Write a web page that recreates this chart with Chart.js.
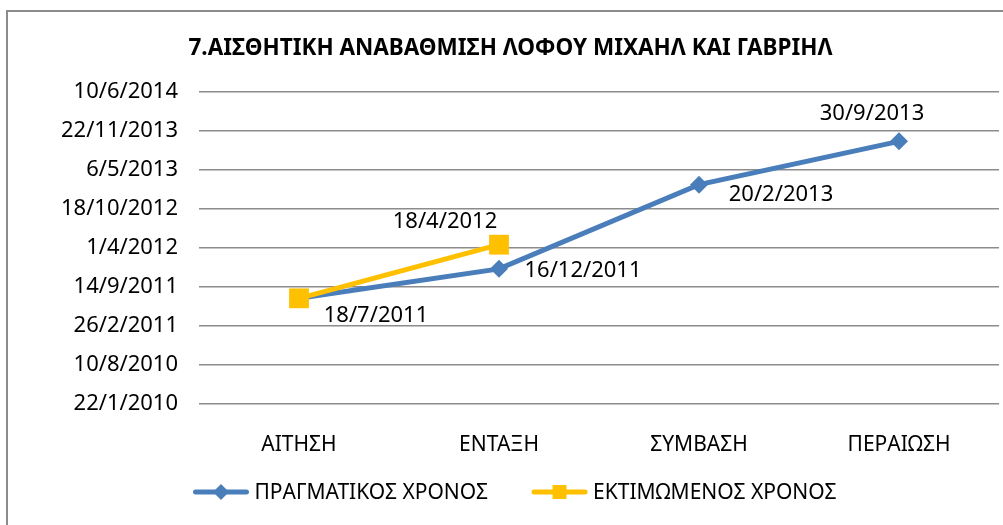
<!DOCTYPE html>
<html>
<head>
<meta charset="utf-8">
<script src="https://cdn.jsdelivr.net/npm/chart.js@4.4.1/dist/chart.umd.min.js"></script>
<style>
  html, body { margin: 0; padding: 0; background: #fff; overflow: hidden; }
  #frame { position: absolute; left: 6px; top: 10px; width: 1100px; height: 600px; border: 2px solid #8c8c8c; }
  #myChart { position: absolute; left: 0; top: 0; }
</style>
</head>
<body>
<div id="frame"></div>
<canvas id="myChart" width="1003" height="525"></canvas>
<script>
const chartTitle = '7.ΑΙΣΘΗΤΙΚΗ ΑΝΑΒΑΘΜΙΣΗ ΛΟΦΟΥ ΜΙΧΑΗΛ ΚΑΙ ΓΑΒΡΙΗΛ';
const stages = ['ΑΙΤΗΣΗ', 'ΕΝΤΑΞΗ', 'ΣΥΜΒΑΣΗ', 'ΠΕΡΑΙΩΣΗ'];
const actualDates = ['18/7/2011', '16/12/2011', '20/2/2013', '30/9/2013'];
const estimatedDates = ['18/7/2011', '18/4/2012', null, null];
const seriesNames = ['ΠΡΑΓΜΑΤΙΚΟΣ ΧΡΟΝΟΣ', 'ΕΚΤΙΜΩΜΕΝΟΣ ΧΡΟΝΟΣ'];
const axisFirstDate = '22/1/2010';
const axisLastDate = '10/6/2014';
const axisStepDays = 200;

const BLUE = '#4a7ebb';
const GOLD = '#ffc000';
const FONT = 'Noto Sans';

// d/m/yyyy <-> days since 1970
function toDays(s) {
  if (!s) return null;
  const p = s.split('/').map(Number);
  return Date.UTC(p[2], p[1] - 1, p[0]) / 86400000;
}
function fromDays(v) {
  const d = new Date(Math.round(v) * 86400000);
  return d.getUTCDate() + '/' + (d.getUTCMonth() + 1) + '/' + d.getUTCFullYear();
}

// where each value label sits relative to its point
const labelOffsets = [
  [[77, 17], [84, 2], [82, 10], [-27, -28]],
  [null, [-54, -23], null, null]
];

const valueLabels = {
  id: 'valueLabels',
  afterDatasetsDraw(chart) {
    const ctx = chart.ctx;
    ctx.save();
    ctx.font = '22px "' + FONT + '"';
    ctx.fillStyle = '#000';
    ctx.textAlign = 'center';
    ctx.textBaseline = 'middle';
    chart.data.datasets.forEach((ds, i) => {
      chart.getDatasetMeta(i).data.forEach((pt, j) => {
        const off = labelOffsets[i][j];
        if (!off || ds.data[j] == null) return;
        ctx.fillText(fromDays(ds.data[j]), pt.x + off[0], pt.y + off[1]);
      });
    });
    ctx.restore();
  }
};

// legend drawn as line + marker like the original
const lineLegend = {
  id: 'lineLegend',
  afterDraw(chart) {
    const ctx = chart.ctx;
    ctx.save();
    ctx.font = '21px "' + FONT + '"';
    ctx.textBaseline = 'middle';
    const lineLen = 55, gapText = 6, gapItem = 44;
    const widths = chart.data.datasets.map(ds => ctx.measureText(ds.label).width);
    let total = widths.reduce((a, w) => a + lineLen + gapText + w, 0) + gapItem;
    let x = 515 - total / 2;
    const y = 492;
    chart.data.datasets.forEach((ds, i) => {
      ctx.strokeStyle = ds.borderColor;
      ctx.lineWidth = 5;
      ctx.lineCap = 'round';
      ctx.beginPath();
      ctx.moveTo(x + 2, y);
      ctx.lineTo(x + lineLen - 2, y);
      ctx.stroke();
      ctx.fillStyle = ds.borderColor;
      const cx = x + lineLen / 2;
      ctx.beginPath();
      if (ds.pointStyle === 'rectRot') {
        ctx.moveTo(cx, y - 8); ctx.lineTo(cx + 8, y); ctx.lineTo(cx, y + 8); ctx.lineTo(cx - 8, y);
      } else {
        ctx.rect(cx - 7, y - 7, 14, 14);
      }
      ctx.closePath();
      ctx.fill();
      ctx.fillStyle = '#000';
      ctx.fillText(ds.label, x + lineLen + gapText, y + 1);
      x += lineLen + gapText + widths[i] + gapItem;
    });
    ctx.restore();
  }
};

const ctx = document.getElementById('myChart');
new Chart(ctx, {
  type: 'line',
  data: {
    labels: stages,
    datasets: [{
      label: seriesNames[0],
      data: actualDates.map(toDays),
      borderColor: BLUE,
      backgroundColor: BLUE,
      borderWidth: 5,
      pointStyle: 'rectRot',
      pointRadius: 9,
      pointBorderWidth: 0,
      order: 1
    }, {
      label: seriesNames[1],
      data: estimatedDates.map(toDays),
      borderColor: GOLD,
      backgroundColor: GOLD,
      borderWidth: 5,
      pointStyle: 'rect',
      pointRadius: 14,
      pointBorderWidth: 0,
      spanGaps: false,
      order: 0
    }]
  },
  options: {
    responsive: false,
    animation: false,
    layout: { autoPadding: false, padding: { left: 22, right: 4, top: 0, bottom: 52 } },
    plugins: {
      legend: { display: false },
      tooltip: { enabled: false },
      title: {
        display: true,
        text: chartTitle,
        color: '#000',
        font: { family: FONT, size: 22.5, weight: 'bold', lineHeight: 1.2 },
        padding: { top: 35, bottom: 30 }
      }
    },
    scales: {
      x: {
        offset: true,
        grid: { display: false },
        border: { display: false },
        ticks: { color: '#000', padding: 20, font: { family: FONT, size: 21 } },
        afterFit: s => { s.height = 69; }
      },
      y: {
        min: toDays(axisFirstDate),
        max: toDays(axisLastDate),
        grid: { color: '#8c8c8c', lineWidth: 1.5, drawTicks: false },
        border: { display: false },
        ticks: {
          stepSize: axisStepDays,
          color: '#000',
          padding: 21,
          font: { family: FONT, size: 22 },
          callback: v => fromDays(v)
        },
        afterFit: s => { s.width = 177; }
      }
    }
  },
  plugins: [valueLabels, lineLegend]
});
</script>
</body>
</html>
